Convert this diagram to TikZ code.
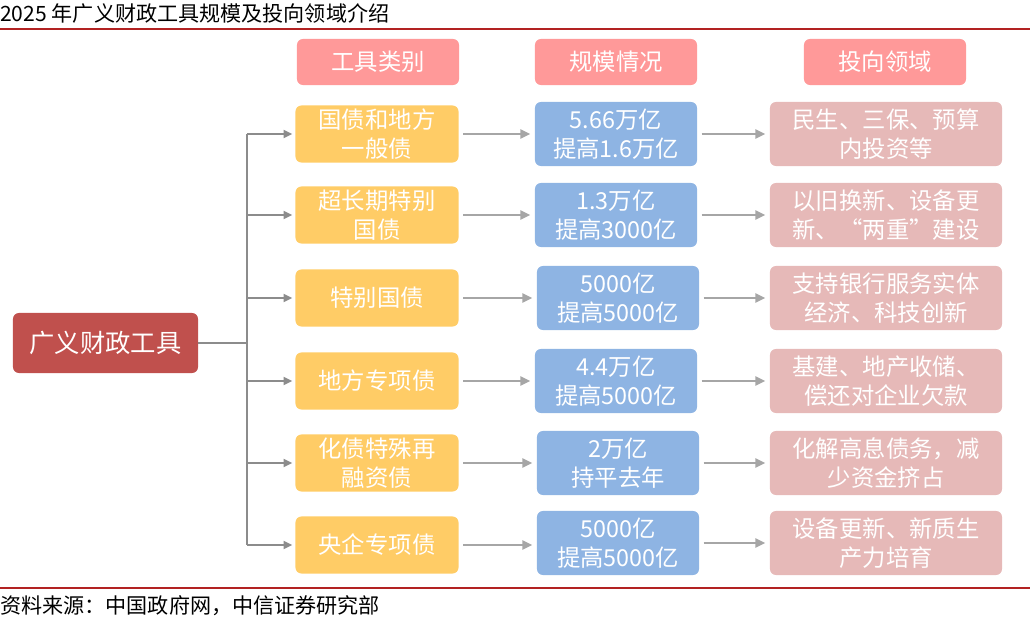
\documentclass[tikz,border=0pt]{standalone}
\usepackage{fontspec}
\setmainfont{Noto Sans CJK SC}
\usepackage{xcolor}
\usepackage{tikz}
\usetikzlibrary{arrows.meta}
\definecolor{headpink}{HTML}{FF9999}
\definecolor{catyellow}{HTML}{FFCC66}
\definecolor{sizeblue}{HTML}{8EB4E3}
\definecolor{areapink}{HTML}{E6B9B8}
\definecolor{rootred}{HTML}{C0504D}
\definecolor{rulered}{HTML}{B22222}
\definecolor{stemgray}{HTML}{8C8C8C}
\definecolor{linkgray}{HTML}{A6A6A6}

\begin{document}
\begin{tikzpicture}[x=0.025cm, y=-0.025cm,
    box/.style={rounded corners=0.15cm, inner sep=0pt, align=center, text=white,
      font=\fontsize{16.6}{20.6}\selectfont},
    headbox/.style={box, fill=headpink, minimum width=4.05cm, minimum height=1.15cm},
    catbox/.style={box, fill=catyellow, minimum width=4.075cm, minimum height=1.425cm},
    sizebox/.style={box, fill=sizeblue, minimum width=4.05cm, minimum height=1.6cm},
    areabox/.style={box, fill=areapink, minimum width=5.8cm, minimum height=1.6cm},
    rootbox/.style={box, fill=rootred, minimum width=4.625cm, minimum height=1.5cm,
      font=\fontsize{18}{22}\selectfont},
    stem/.style={draw=stemgray, line width=1.3pt},
    branch/.style={stem, -{Triangle[length=0.22cm, width=0.2cm]}, shorten >=2pt},
    link/.style={draw=linkgray, line width=2pt, -{Triangle[length=0.25cm, width=0.22cm]},
      shorten >=3pt, shorten <=3pt}]
  \useasboundingbox (0,0) rectangle (1030,622);

  % title and rules
  \node[anchor=west, inner sep=0pt, font=\fontsize{15}{18}\selectfont] (title) at (0,14) {2025 年广义财政工具规模及投向领域介绍};
  \draw[rulered, line width=0.8pt] (0,29) -- (1030,29);
  \draw[rulered, line width=0.8pt] (0,588) -- (1030,588);
  \node[anchor=west, inner sep=0pt, font=\fontsize{15}{18}\selectfont] (source) at (0,606) {资料来源：中国政府网，中信证券研究部};

  % column heads
  \node[headbox] (headcat) at (378,62) {工具类别};
  \node[headbox] (headsize) at (616,62) {规模情况};
  \node[headbox] (headarea) at (885,62) {投向领域};

  % root
  \node[rootbox] (root) at (105.5,343) {广义财政工具};
  \coordinate (fork) at (247,343);

  % tool categories
  \node[catbox] (cat1) at (377,134) {国债和地方\\一般债};
  \node[catbox] (cat2) at (377,215) {超长期特别\\国债};
  \node[catbox] (cat3) at (377,298) {特别国债};
  \node[catbox] (cat4) at (377,381) {地方专项债};
  \node[catbox] (cat5) at (377,463) {化债特殊再\\融资债};
  \node[catbox] (cat6) at (377,545) {央企专项债};

  % scale
  \node[sizebox] (size1) at (616,134) {5.66万亿\\提高1.6万亿};
  \node[sizebox] (size2) at (616,215) {1.3万亿\\提高3000亿};
  \node[sizebox] (size3) at (618,298) {5000亿\\提高5000亿};
  \node[sizebox] (size4) at (616,381) {4.4万亿\\提高5000亿};
  \node[sizebox] (size5) at (618,463) {2万亿\\持平去年};
  \node[sizebox] (size6) at (618,543) {5000亿\\提高5000亿};

  % investment areas
  \node[areabox] (area1) at (886,134) {民生、三保、预算\\内投资等};
  \node[areabox] (area2) at (886,215) {以旧换新、设备更\\新、“两重”建设};
  \node[areabox] (area3) at (886,298) {支持银行服务实体\\经济、科技创新};
  \node[areabox] (area4) at (886,381) {基建、地产收储、\\偿还对企业欠款};
  \node[areabox] (area5) at (886,463) {化解高息债务，减\\少资金挤占};
  \node[areabox] (area6) at (886,543) {设备更新、新质生\\产力培育};

  % tree
  \draw[stem] (root) -- (fork);
  \draw[stem] (fork |- cat1) -- (fork |- cat6);
  \draw[branch] (fork |- cat1) -- (cat1);
  \draw[branch] (fork |- cat2) -- (cat2);
  \draw[branch] (fork |- cat3) -- (cat3);
  \draw[branch] (fork |- cat4) -- (cat4);
  \draw[branch] (fork |- cat5) -- (cat5);
  \draw[branch] (fork |- cat6) -- (cat6);

  % row arrows
  \draw[link] (cat1) -- (size1);
  \draw[link] (cat2) -- (size2);
  \draw[link] (cat3) -- (size3);
  \draw[link] (cat4) -- (size4);
  \draw[link] (cat5) -- (size5);
  \draw[link] (cat6) -- (cat6 -| size6.west);

  \draw[link] (size1) -- (area1);
  \draw[link] (size2) -- (area2);
  \draw[link] (size3) -- (area3);
  \draw[link] (size4) -- (area4);
  \draw[link] (size5) -- (area5);
  \draw[link] (size6) -- (area6);
\end{tikzpicture}
\end{document}
